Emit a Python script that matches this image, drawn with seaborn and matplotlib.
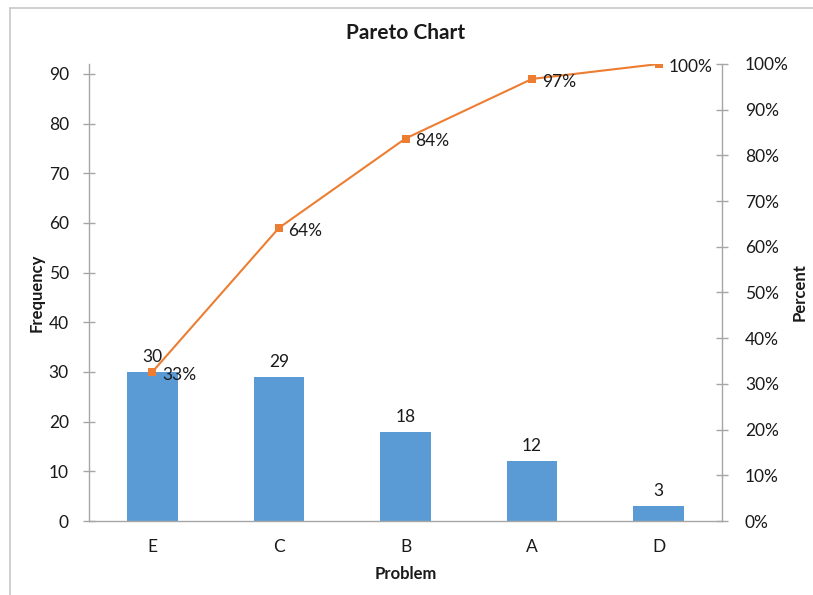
import numpy as np
import pandas as pd
import matplotlib
matplotlib.use("Agg")
import matplotlib.pyplot as plt
from matplotlib.lines import Line2D
from matplotlib.ticker import FixedLocator, MultipleLocator, PercentFormatter
import seaborn as sns

problems = ["E", "C", "B", "A", "D"]
frequency = [30, 29, 18, 12, 3]
cum_percent = [33, 64, 84, 97, 100]

bar_color = "#5B9BD5"
line_color = "#ED7D31"
axis_gray = "#A6A6A6"
text_color = "#1A1A1A"

sns.set_theme(style="white")
plt.rcParams["font.family"] = ["Lato", "DejaVu Sans"]
plt.rcParams["text.color"] = text_color
plt.rcParams["axes.labelcolor"] = text_color
plt.rcParams["xtick.color"] = text_color
plt.rcParams["ytick.color"] = text_color

df = pd.DataFrame({"Problem": problems, "Frequency": frequency,
                   "Cumulative": np.cumsum(frequency)})
total = df["Frequency"].sum()
df["Share"] = df["Cumulative"] / total

fig = plt.figure(figsize=(8.13, 5.95), dpi=100)
ax = fig.add_axes([89 / 813, 1 - 521 / 595, (722 - 89) / 813, (521 - 64) / 595])

sns.barplot(data=df, x="Problem", y="Frequency", color=bar_color,
            width=0.4, saturation=1, ax=ax, edgecolor="none")
ax.set_xlim(-0.5, len(problems) - 0.5)
ax.set_ylim(0, total)
ax.yaxis.set_major_locator(MultipleLocator(10))

for c in ax.containers:
    ax.bar_label(c, labels=[str(v) for v in frequency], padding=5, fontsize=12.5)

ax2 = ax.twinx()
sns.lineplot(data=df, x="Problem", y="Share", color=line_color, marker="s",
             markersize=5.5, markeredgewidth=0, linewidth=1.5, sort=False, ax=ax2)
ax2.set_ylim(0, 1)
ax2.yaxis.set_major_locator(MultipleLocator(0.1))
ax2.yaxis.set_major_formatter(PercentFormatter(1.0, decimals=0))

for i, (share, pct) in enumerate(zip(df["Share"], cum_percent)):
    ax2.annotate(f"{pct}%", (i, share), xytext=(7, -2), textcoords="offset points",
                 ha="left", va="center", fontsize=12.5)

# spines and ticks
for a in (ax, ax2):
    for s in a.spines.values():
        s.set_visible(False)
ax.spines["left"].set_visible(True)
ax.spines["bottom"].set_visible(True)
ax2.spines["right"].set_visible(True)
for s in (ax.spines["left"], ax.spines["bottom"], ax2.spines["right"]):
    s.set_color(axis_gray)
    s.set_linewidth(1.0)

ax.tick_params(axis="y", direction="inout", length=9, width=1, color=axis_gray,
               labelsize=12.5, pad=10)
ax2.tick_params(axis="y", direction="inout", length=9, width=1, color=axis_gray,
                labelsize=12.5, pad=12)
ax.xaxis.set_minor_locator(FixedLocator(np.arange(-0.5, len(problems), 1.0)))
ax.tick_params(axis="x", which="major", length=0, labelsize=12.5, pad=13)
ax.tick_params(axis="x", which="minor", direction="inout", length=9, width=1,
               color=axis_gray)

ax.set_xlabel("Problem", fontsize=12, fontweight="bold", labelpad=8)
ax.set_ylabel("Frequency", fontsize=12, fontweight="bold", labelpad=3)
ax2.set_ylabel("Percent", fontsize=12, fontweight="bold", labelpad=2)
ax.set_title("Pareto Chart", fontsize=15, fontweight="bold", pad=18)

# chart frame (top and left edges)
frame_kw = dict(transform=fig.transFigure, color="#C8C8C8", linewidth=1.2)
fig.lines.append(Line2D([10 / 813, 1.1], [1 - 8 / 595] * 2, **frame_kw))
fig.lines.append(Line2D([10 / 813] * 2, [-0.1, 1 - 8 / 595], **frame_kw))

fig.savefig("out.png", dpi=100)
